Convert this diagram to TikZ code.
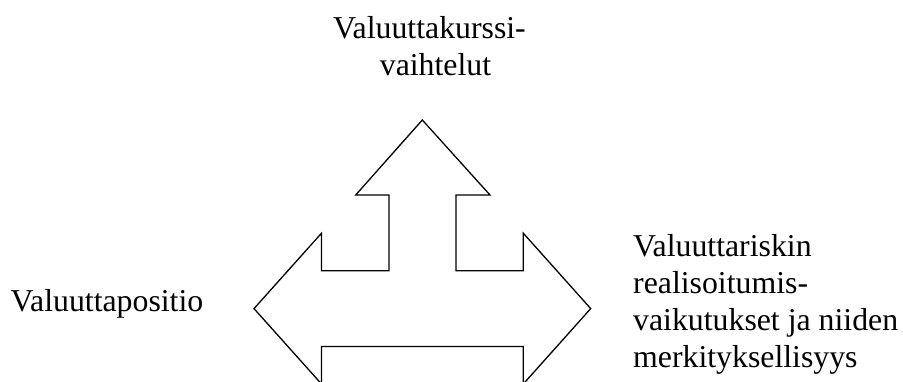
\documentclass[tikz,border=0pt]{standalone}
\usepackage{fontspec}
\setmainfont{Liberation Serif}
\begin{document}
\begin{tikzpicture}[x=1pt,y=1pt,
  label/.style={inner sep=0pt,font=\fontsize{31.8}{37.5}\selectfont},
  outline/.style={draw=black,line width=1.3pt,line join=miter,fill=white}]
\useasboundingbox (0,0) rectangle (903,381);
% three-way block arrow: left, up and right
\draw[outline]
  (254,72.4) -- (321.5,147.8) -- (321.5,110.3) -- (389,110.3) -- (389,186)
  -- (355.7,186) -- (422.3,261) -- (490,186) -- (456,186) -- (456,110.3)
  -- (523.3,110.3) -- (523.3,147.8) -- (590.7,72.4) -- (523.3,-3)
  -- (523.3,34.5) -- (321.5,34.5) -- (321.5,-3) -- cycle;
% labels
\node[label,anchor=base] (top1) at (429.5,342.7) {Valuuttakurssi-};
\node[label,anchor=base] (top2) at (435.5,305) {vaihtelut};
\node[label,anchor=base west] (left) at (10.5,69.3) {Valuuttapositio};
\node[label,anchor=base west] (r1) at (633,125) {Valuuttariskin};
\node[label,anchor=base west] (r2) at (633,87.6) {realisoitumis-};
\node[label,anchor=base west] (r3) at (633,50.2) {vaikutukset ja niiden};
\node[label,anchor=base west] (r4) at (633,13.6) {merkityksellisyys};
\end{tikzpicture}
\end{document}
